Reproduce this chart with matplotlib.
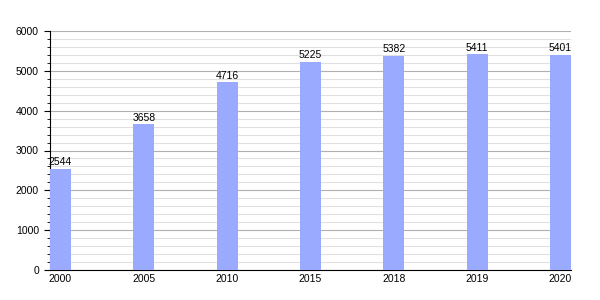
import numpy as np
import matplotlib.pyplot as plt
from matplotlib.ticker import MultipleLocator

plt.rcParams['font.family'] = ['Liberation Sans', 'DejaVu Sans']

# population by year
years = ['2000', '2005', '2010', '2015', '2018', '2019', '2020']
values = [2544, 3658, 4716, 5225, 5382, 5411, 5401]

fig = plt.figure(figsize=(6, 3), dpi=100)
ax = fig.add_axes([50/600, 0.1, 521/600, 239/300])

pos = np.arange(len(years))
w = 21/83.5
ax.bar(pos, values, width=w, align='edge', color='#99aaff', zorder=3)

for p, v in zip(pos, values):
    ax.text(p + w/2, v + 40, str(v), ha='center', va='bottom', fontsize=7.5, zorder=4)

ax.set_xlim(0, pos[-1] + w)
ax.set_ylim(0, 6000)
ax.set_xticks(pos + w/2)
ax.set_xticklabels(years)
ax.yaxis.set_major_locator(MultipleLocator(1000))
ax.yaxis.set_minor_locator(MultipleLocator(200))
ax.grid(axis='y', which='major', color='#b0b0b0', lw=0.8, zorder=0)
ax.grid(axis='y', which='minor', color='#e0e0e0', lw=0.8, zorder=0)
ax.tick_params(axis='x', length=0, labelsize=7.5, pad=3)
ax.tick_params(axis='y', which='major', length=4, labelsize=7.5, pad=4)
ax.tick_params(axis='y', which='minor', length=2)
ax.spines['top'].set_visible(False)
ax.spines['right'].set_visible(False)

fig.savefig('out.png', dpi=100)
